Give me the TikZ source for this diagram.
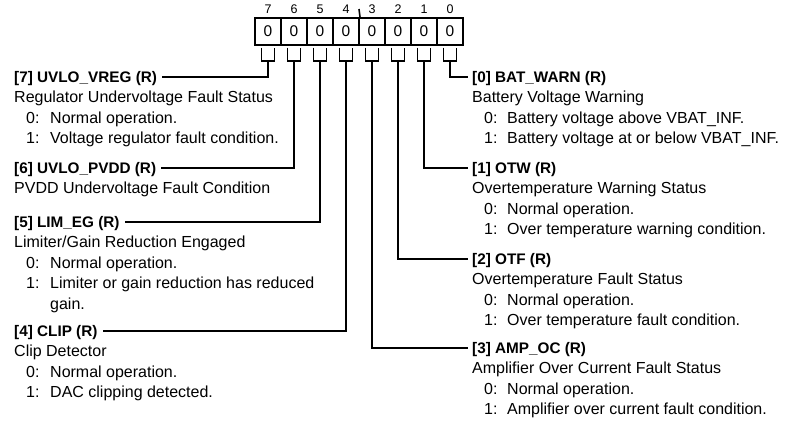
\documentclass[tikz,border=0pt]{standalone}
\usepackage{fontspec}
\setmainfont{Liberation Sans}
\begin{document}
\begin{tikzpicture}[x=1pt,y=-1pt,
  wire/.style={line width=2pt},
  ttl/.style={font=\fontsize{15.3}{18}\selectfont\bfseries, anchor=base west, inner sep=0pt, text height=11pt, text depth=0pt},
  txt/.style={font=\fontsize{16}{18}\selectfont, anchor=base west, inner sep=0pt},
  cell/.style={draw, line width=2pt, minimum width=26pt, minimum height=27pt, inner sep=0pt, font=\fontsize{15.5}{16}\selectfont},
  bitno/.style={font=\fontsize{12.5}{13}\selectfont, inner sep=0pt}]
\useasboundingbox (0,0) rectangle (786,424);
% register cells
\foreach \b [count=\i from 0] in {7,6,5,4,3,2,1,0} {
  \node[cell] (c\b) at ({268+26*\i},31.5) {0};
  \node[bitno] (n\b) at ({268+26*\i},9) {\b};
  \draw[line width=1.6pt] ({268+26*\i-6.5},47.5) |- ({268+26*\i},61) coordinate (s\b) -| ({268+26*\i+6.5},47.5);
}
\coordinate (tk) at (359,9);
\draw[line width=1.6pt] (tk) -- (c4.north east);
% left titles
\node[ttl] (t7) at (14,82.5) {[7] UVLO\_VREG (R)};
\node[txt] (t7a) at (14,102.9) {Regulator Undervoltage Fault Status};
\node[txt] (t7b) at (26,123.3) {0:};
\node[txt] (t7c) at (50,123.3) {Normal operation.};
\node[txt] (t7d) at (26,143.7) {1:};
\node[txt] (t7e) at (50,143.7) {Voltage regulator fault condition.};

\node[ttl] (t6) at (14,173.5) {[6] UVLO\_PVDD (R)};
\node[txt] (t6a) at (14,193.9) {PVDD Undervoltage Fault Condition};

\node[ttl] (t5) at (14,227.5) {[5] LIM\_EG (R)};
\node[txt] (t5a) at (14,247.9) {Limiter/Gain Reduction Engaged};
\node[txt] (t5b) at (26,268.3) {0:};
\node[txt] (t5c) at (50,268.3) {Normal operation.};
\node[txt] (t5d) at (26,288.7) {1:};
\node[txt] (t5e) at (50,288.7) {Limiter or gain reduction has reduced};
\node[txt] (t5f) at (50,309.1) {gain.};

\node[ttl] (t4) at (14,336.5) {[4] CLIP (R)};
\node[txt] (t4a) at (14,356.9) {Clip Detector};
\node[txt] (t4b) at (26,377.3) {0:};
\node[txt] (t4c) at (50,377.3) {Normal operation.};
\node[txt] (t4d) at (26,397.7) {1:};
\node[txt] (t4e) at (50,397.7) {DAC clipping detected.};

% right titles
\node[ttl] (t0) at (472,82.5) {[0] BAT\_WARN (R)};
\node[txt] (t0a) at (472,102.9) {Battery Voltage Warning};
\node[txt] (t0b) at (484,123.3) {0:};
\node[txt] (t0c) at (507,123.3) {Battery voltage above VBAT\_INF.};
\node[txt] (t0d) at (484,143.7) {1:};
\node[txt] (t0e) at (507,143.7) {Battery voltage at or below VBAT\_INF.};

\node[ttl] (t1) at (472,173.5) {[1] OTW (R)};
\node[txt] (t1a) at (472,193.9) {Overtemperature Warning Status};
\node[txt] (t1b) at (484,214.3) {0:};
\node[txt] (t1c) at (507,214.3) {Normal operation.};
\node[txt] (t1d) at (484,234.7) {1:};
\node[txt] (t1e) at (507,234.7) {Over temperature warning condition.};

\node[ttl] (t2) at (472,264.5) {[2] OTF (R)};
\node[txt] (t2a) at (472,284.9) {Overtemperature Fault Status};
\node[txt] (t2b) at (484,305.3) {0:};
\node[txt] (t2c) at (507,305.3) {Normal operation.};
\node[txt] (t2d) at (484,325.7) {1:};
\node[txt] (t2e) at (507,325.7) {Over temperature fault condition.};

\node[ttl] (t3) at (472,353.5) {[3] AMP\_OC (R)};
\node[txt] (t3a) at (472,373.9) {Amplifier Over Current Fault Status};
\node[txt] (t3b) at (484,394.3) {0:};
\node[txt] (t3c) at (507,394.3) {Normal operation.};
\node[txt] (t3d) at (484,414.7) {1:};
\node[txt] (t3e) at (507,414.7) {Amplifier over current fault condition.};

% connectors
\foreach \b in {7,6,5,4} \draw[wire] (s\b) |- ([xshift=5pt]t\b.east);
\foreach \b in {0,1,2,3} \draw[wire] (s\b) |- ([xshift=-4pt]t\b.west);
\end{tikzpicture}
\end{document}
